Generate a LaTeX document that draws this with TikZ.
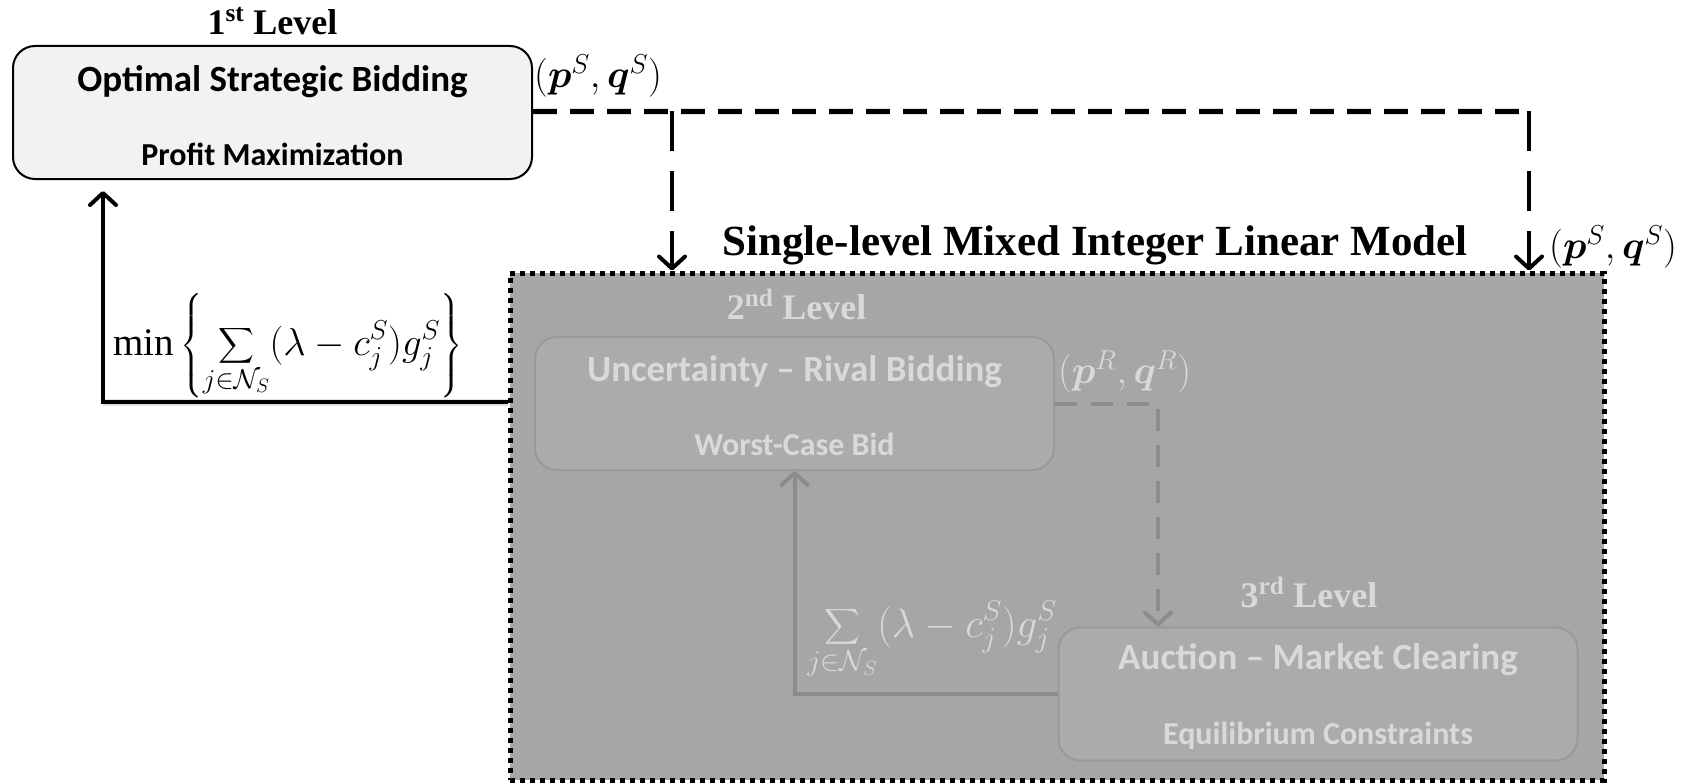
\RequirePackage{fix-cm}
\documentclass[tikz,border=0pt]{standalone}
\usepackage{amsmath}
\usepackage{bm}
\usepackage{fontspec}
\setmainfont{Liberation Serif}
\newfontfamily\calfont{Carlito}
\usetikzlibrary{positioning,arrows.meta}

\definecolor{boxfill}{HTML}{F2F2F2}
\definecolor{modelfill}{HTML}{A6A6A6}
\definecolor{innerfill}{HTML}{ABABAB}
\definecolor{innerline}{HTML}{999999}
\definecolor{fadedtext}{HTML}{D9D9D9}
\definecolor{fadedline}{HTML}{8C8C8C}

\tikzset{
  levelbox/.style={draw, line width=2pt, rounded corners=22pt, fill=boxfill,
    minimum width=519pt, minimum height=133pt},
  fadedbox/.style={levelbox, draw=innerline, fill=innerfill},
  bigtext/.style={font={\calfont\bfseries\fontsize{37}{44}\selectfont}, inner sep=0pt},
  smalltext/.style={font={\calfont\bfseries\fontsize{32}{38}\selectfont}, inner sep=0pt},
  leveltext/.style={font={\bfseries\fontsize{36}{42}\selectfont}, inner sep=0pt},
  mathtext/.style={font={\fontsize{39}{44}\selectfont}, inner sep=0pt},
  sumtext/.style={font={\fontsize{39}{44}\selectfont}, inner sep=0pt},
  barb/.style={-{Straight Barb[length=12pt,width=26pt,line join=round,line cap=round]}},
  blackdash/.style={line width=5pt, dash pattern=on 24pt off 13pt},
  blackdashv/.style={line width=4pt, dash pattern=on 40pt off 20pt},
  greydash/.style={draw=fadedline, line width=4pt, dash pattern=on 22pt off 14pt},
  greyline/.style={draw=fadedline, line width=4pt},
  softshadow/.style={draw=black!12, line width=7pt, shift={(1,5)}},
}

\begin{document}
\begin{tikzpicture}[x=1pt, y=-1pt]
  \useasboundingbox (0,0) rectangle (1686,784);

  % region of the single-level model (levels 2 and 3)
  \node[draw, line width=5pt, dash pattern=on 5pt off 5pt, fill=modelfill,
    minimum width=1094pt, minimum height=507pt, inner sep=0pt] (model) at (1057,526.5) {};
  \node[font={\bfseries\fontsize{43}{48}\selectfont}, inner sep=0pt] (modeltitle)
    at (1095,245) {Single-level Mixed Integer Linear Model};

  % the three levels
  \node[levelbox] (lvl1) at (272.5,112.5) {};
  \node[fadedbox] (lvl2) at (794.5,403.5) {};
  \node[fadedbox] (lvl3) at (1318,694) {};

  \node[leveltext, above=10pt of lvl1] {1\textsuperscript{st} Level};
  \node[leveltext, text=fadedtext, above=16pt of lvl2, xshift=2pt] {2\textsuperscript{nd} Level};
  \node[leveltext, text=fadedtext, above=18pt of lvl3, xshift=-9pt] {3\textsuperscript{rd} Level};

  \node[bigtext] at ([yshift=-37pt]lvl1.north) {Optimal Strategic Bidding};
  \node[smalltext] at ([yshift=26pt]lvl1.south) {Profit Maximization};
  \node[bigtext, text=fadedtext] at ([yshift=-36pt]lvl2.north) {Uncertainty \textendash{} Rival Bidding};
  \node[smalltext, text=fadedtext] at ([yshift=27pt]lvl2.south) {Worst-Case Bid};
  \node[bigtext, text=fadedtext] at ([yshift=-33pt]lvl3.north) {Auction \textendash{} Market Clearing};
  \node[smalltext, text=fadedtext] at ([yshift=26pt]lvl3.south) {Equilibrium Constraints};

  % strategic bid passed down
  \coordinate (splitL) at (672,111);
  \coordinate (splitR) at (1529,111);
  \draw[softshadow, dash pattern=on 24pt off 13pt] (lvl1.east |- splitL) -- (splitR);
  \draw[blackdash] (lvl1.east |- splitL) -- (splitR);
  \draw[blackdashv, barb] (splitL) -- (splitL |- model.north);
  \draw[blackdashv, barb] (splitR) -- (splitR |- model.north);

  % worst-case profit fed back
  \coordinate (backL) at (103,402);
  \draw[softshadow] (model.west |- backL) -- (backL);
  \draw[line width=4pt, barb, shorten >=11pt] (model.west |- backL) -- (backL) -- (backL |- lvl1.south);

  % rival bids and clearing result
  \coordinate (turnR) at (1158,403.5);
  \draw[greydash, barb] (lvl2.east) -- (turnR) -- (turnR |- lvl3.north);
  \draw[greyline, barb] (lvl3.west) -| (lvl2.south);

  % labels
  \node[mathtext, anchor=west] (pqtop) at (534,76) {$(\bm{p}^S,\bm{q}^S)$};
  \node[mathtext, anchor=west] (pqright) at (1549,247) {$(\bm{p}^S,\bm{q}^S)$};
  \node[mathtext, anchor=west, text=fadedtext] (pqrival) at (1058,372) {$(\bm{p}^R,\bm{q}^R)$};
  \node[sumtext] (minprofit) at (288,346)
    {$\displaystyle\min\left\{\sum_{j\in\mathcal{N}_S}(\lambda-c_j^S)g_j^S\right\}$};
  \node[sumtext, text=fadedtext, font={\fontsize{41}{46}\selectfont}] (profit) at (932,640)
    {$\displaystyle\sum_{j\in\mathcal{N}_S}(\lambda-c_j^S)g_j^S$};
\end{tikzpicture}
\end{document}
